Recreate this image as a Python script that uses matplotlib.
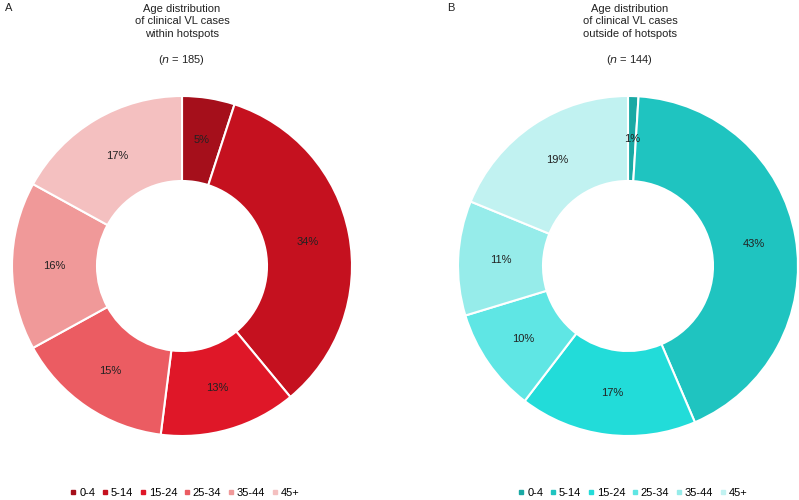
import matplotlib.pyplot as plt
from matplotlib.lines import Line2D

plt.rcParams['font.family'] = ['Liberation Sans', 'DejaVu Sans']

groepen = ["0-4", "5-14", "15-24", "25-34", "35-44", "45+"]
binnen = [5, 34, 13, 15, 16, 17]
buiten = [1, 43, 17, 10, 11, 19]

kleur_a = ["#a50f1b", "#c5111f", "#df1728", "#eb5c62", "#f09999", "#f4c0c0"]
kleur_b = ["#1aa9a4", "#1fc4c0", "#22dcd9", "#5fe6e4", "#96ecea", "#c1f2f1"]

fig = plt.figure(figsize=(7.99, 5), dpi=100)

# (waarden, kleuren, middelpunt x, letter, letter x, titel x, titel, n)
panelen = [
    (binnen, kleur_a, 182, "A", 5, 182, "Age distribution\nof clinical VL cases\nwithin hotspots", 185),
    (buiten, kleur_b, 628, "B", 447, 630, "Age distribution\nof clinical VL cases\noutside of hotspots", 144),
]

for waarden, kleuren, mx, letter, lx, tx, titel, n in panelen:
    ax = fig.add_axes([(mx - 170) / 799, 64 / 500, 340 / 799, 340 / 500])
    ax.pie(waarden, colors=kleuren, startangle=90, counterclock=False,
           autopct='%.0f%%', pctdistance=0.75,
           wedgeprops=dict(width=0.5, edgecolor='white', linewidth=1.5),
           textprops=dict(fontsize=8, color='#222222'))
    ax.set_xlim(-1, 1)
    ax.set_ylim(-1, 1)
    ax.set_aspect('equal')
    ax.axis('off')

    fig.text(lx / 799, 1 - 8 / 500, letter, fontsize=8, va='center', color='#222222')
    fig.text(tx / 799, 1 - 21.5 / 500, titel, fontsize=8, ha='center', va='center',
             linespacing=1.3, color='#222222')
    fig.text(tx / 799, 1 - 60 / 500, "($n$ = %d)" % n, fontsize=8, ha='center',
             va='center', color='#222222')

    handles = [Line2D([], [], marker='s', linestyle='', color=c, markersize=3)
               for c in kleuren]
    fig.legend(handles, groepen, loc='center', bbox_to_anchor=((tx + 3) / 799, 1 - 493 / 500),
               ncol=6, frameon=False, fontsize=8, handlelength=0.5,
               handletextpad=0.3, columnspacing=0.6)

plt.savefig("out.png", dpi=100)
